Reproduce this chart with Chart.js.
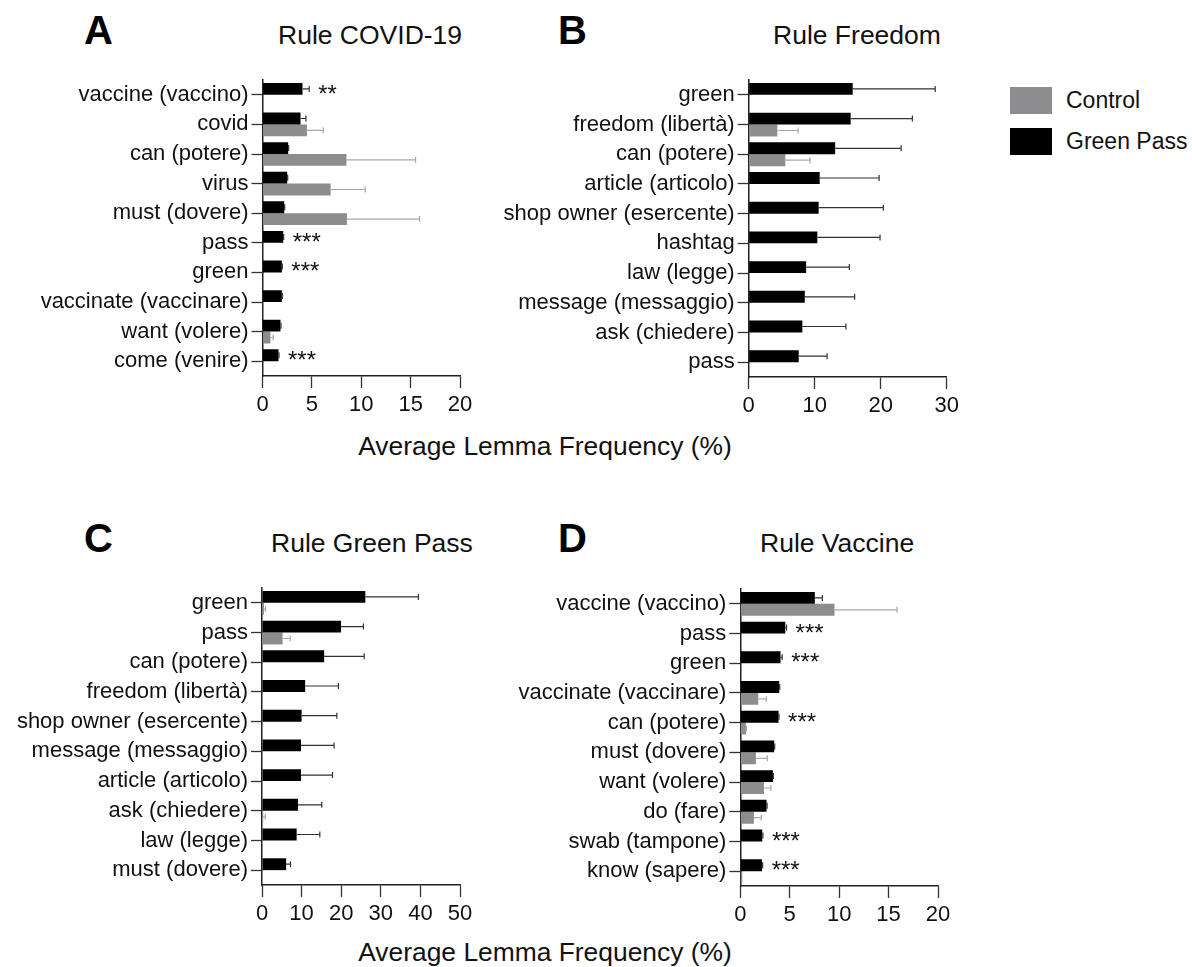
<!DOCTYPE html>
<html>
<head>
<meta charset="utf-8">
<script src="https://cdn.jsdelivr.net/npm/chart.js@4.4.1/dist/chart.umd.min.js"></script>
<style>
  html, body { margin: 0; padding: 0; background: #fff; }
  body {
    width: 1192px; height: 967px; position: relative; overflow: hidden;
    font-family: "Liberation Sans", Arial, Helvetica, sans-serif; color: #111;
  }
  canvas { position: absolute; }
  .txt { position: absolute; line-height: 1; white-space: nowrap; }
  .letter { font-weight: bold; font-size: 40px; color: #000; }
  .title { font-size: 26.5px; }
  .axis-title { font-size: 26.4px; transform: translateX(-50%); }
  .swatch { position: absolute; width: 42px; height: 27px; }
  .leg { font-size: 23px; }
</style>
</head>
<body>

<div class="txt letter" style="left:84px; top:10px;">A</div>
<div class="txt title" style="left:278px; top:21.5px;">Rule COVID-19</div>
<div class="txt letter" style="left:558px; top:10px;">B</div>
<div class="txt title" style="left:773px; top:21.5px;">Rule Freedom</div>
<div class="txt letter" style="left:84px; top:518px;">C</div>
<div class="txt title" style="left:271px; top:529.5px;">Rule Green Pass</div>
<div class="txt letter" style="left:558px; top:518px;">D</div>
<div class="txt title" style="left:760px; top:529.5px;">Rule Vaccine</div>

<div class="txt axis-title" style="left:545px; top:433.3px;">Average Lemma Frequency (%)</div>
<div class="txt axis-title" style="left:545px; top:939.3px;">Average Lemma Frequency (%)</div>

<div class="swatch" style="left:1010px; top:87px; background:#8d8d8f;"></div>
<div class="txt leg" style="left:1066px; top:89.3px;">Control</div>
<div class="swatch" style="left:1010px; top:128px; background:#000;"></div>
<div class="txt leg" style="left:1066px; top:129.8px;">Green Pass</div>

<canvas id="chartA" width="500" height="380" style="left:0px; top:60px;"></canvas>
<canvas id="chartB" width="500" height="380" style="left:480px; top:60px;"></canvas>
<canvas id="chartC" width="500" height="380" style="left:0px; top:568px;"></canvas>
<canvas id="chartD" width="500" height="380" style="left:480px; top:568px;"></canvas>

<script>
/* ============================================================
   Average lemma frequency per rule - Green Pass vs Control
   ============================================================ */

const FONT = '"Liberation Sans", Arial, Helvetica, sans-serif';
const GREEN_PASS_COLOR = "#000000";
const CONTROL_COLOR    = "#8d8d8f";

// ── A: Rule COVID-19 ──────────────────────────────────────────
const covidLabels = ["vaccine (vaccino)", "covid", "can (potere)", "virus", "must (dovere)",
                     "pass", "green", "vaccinate (vaccinare)", "want (volere)", "come (venire)"];
const covidGreenPass    = [4.05, 3.85, 2.6, 2.5, 2.2, 2.1, 1.96, 1.96, 1.82, 1.62];
const covidGreenPassErr = [0.68, 0.55, 0.05, 0.05, 0.05, 0.05, 0.05, 0.05, 0.05, 0.05];
const covidControl      = [0.1, 4.5, 8.5, 6.9, 8.55, 0, 0, 0, 0.8, 0];
const covidControlErr   = [0, 1.65, 7.0, 3.5, 7.35, 0, 0, 0, 0.28, 0];
const covidStars        = ["**", "", "", "", "", "***", "***", "", "", "***"];
const covidTicks        = [0, 5, 10, 15, 20];

// ── B: Rule Freedom ───────────────────────────────────────────
const freedomLabels = ["green", "freedom (libertà)", "can (potere)", "article (articolo)",
                       "shop owner (esercente)", "hashtag", "law (legge)", "message (messaggio)",
                       "ask (chiedere)", "pass"];
const freedomGreenPass    = [15.76, 15.45, 13.1, 10.76, 10.6, 10.4, 8.7, 8.5, 8.13, 7.58];
const freedomGreenPassErr = [12.5, 9.35, 10.0, 9.0, 9.8, 9.5, 6.55, 7.55, 6.6, 4.3];
const freedomControl      = [0, 4.34, 5.55, 0.05, 0, 0, 0, 0, 0.05, 0];
const freedomControlErr   = [0, 3.15, 3.75, 0, 0, 0, 0, 0, 0, 0];
const freedomStars        = ["", "", "", "", "", "", "", "", "", ""];
const freedomTicks        = [0, 10, 20, 30];

// ── C: Rule Green Pass ────────────────────────────────────────
const greenLabels = ["green", "pass", "can (potere)", "freedom (libertà)", "shop owner (esercente)",
                     "message (messaggio)", "article (articolo)", "ask (chiedere)", "law (legge)",
                     "must (dovere)"];
const greenGreenPass    = [26.1, 19.95, 15.7, 10.9, 10.0, 9.85, 9.85, 9.1, 8.75, 6.1];
const greenGreenPassErr = [13.4, 5.65, 10.1, 8.4, 8.9, 8.35, 7.95, 6.0, 5.85, 1.1];
const greenControl      = [0.5, 5.2, 0.1, 0, 0, 0, 0, 0.3, 0, 0.1];
const greenControlErr   = [0.4, 1.9, 0, 0, 0, 0, 0, 0.5, 0, 0];
const greenStars        = ["", "", "", "", "", "", "", "", "", ""];
const greenTicks        = [0, 10, 20, 30, 40, 50];

// ── D: Rule Vaccine ───────────────────────────────────────────
const vaccineLabels = ["vaccine (vaccino)", "pass", "green", "vaccinate (vaccinare)", "can (potere)",
                       "must (dovere)", "want (volere)", "do (fare)", "swab (tampone)", "know (sapere)"];
const vaccineGreenPass    = [7.54, 4.55, 4.07, 3.94, 3.87, 3.43, 3.3, 2.66, 2.22, 2.19];
const vaccineGreenPassErr = [0.76, 0.13, 0.17, 0.05, 0.05, 0.05, 0.05, 0.05, 0.07, 0.07];
const vaccineControl      = [9.53, 0, 0, 1.82, 0.57, 1.58, 2.39, 1.38, 0, 0.2];
const vaccineControlErr   = [6.33, 0, 0, 0.81, 0.05, 1.15, 0.71, 0.74, 0, 0];
const vaccineStars        = ["", "***", "***", "", "***", "", "", "", "***", "***"];
const vaccineTicks        = [0, 5, 10, 15, 20];

// ── Error bars + significance stars ──────────────────────────
const errorBarPlugin = {
    id: "errorBars",
    afterDatasetsDraw(chart) {
        const ctx = chart.ctx;
        const xScale = chart.scales.x;
        chart.data.datasets.forEach((ds, di) => {
            const meta = chart.getDatasetMeta(di);
            meta.data.forEach((bar, i) => {
                const err = ds.errors[i];
                if (err) {
                    const x0 = bar.x;
                    const x1 = xScale.getPixelForValue(ds.data[i] + err);
                    ctx.save();
                    ctx.strokeStyle = ds.errorColor;
                    ctx.lineWidth = 1.2;
                    ctx.beginPath();
                    ctx.moveTo(x0, bar.y);
                    ctx.lineTo(x1, bar.y);
                    ctx.moveTo(x1, bar.y - 3);
                    ctx.lineTo(x1, bar.y + 3);
                    ctx.stroke();
                    ctx.restore();
                }
                const star = ds.stars && ds.stars[i];
                if (star) {
                    const xs = xScale.getPixelForValue(ds.data[i] + (err || 0)) + 9;
                    ctx.save();
                    ctx.fillStyle = "#111";
                    ctx.font = `24px ${FONT}`;
                    ctx.textAlign = "left";
                    ctx.textBaseline = "alphabetic";
                    ctx.fillText(star, xs, bar.y + 13);
                    ctx.restore();
                }
            });
        });
    }
};

// ── Panel builder ─────────────────────────────────────────────
function renderPanel(canvasId, labels, gp, gpErr, ct, ctErr, stars, ticks, box) {
    const ctx = document.getElementById(canvasId).getContext("2d");
    return new Chart(ctx, {
        type: "bar",
        data: {
            labels,
            datasets: [
                { label: "Green Pass", data: gp, errors: gpErr, stars, errorColor: "#333",
                  backgroundColor: GREEN_PASS_COLOR, borderWidth: 0 },
                { label: "Control", data: ct, errors: ctErr, errorColor: "#a8a8a8",
                  backgroundColor: CONTROL_COLOR, borderWidth: 0 }
            ]
        },
        options: {
            indexAxis: "y",
            responsive: false,
            animation: false,
            events: [],
            layout: { padding: { left: 0, top: box.top, right: box.right, bottom: box.bottom } },
            datasets: { bar: { categoryPercentage: 0.8, barPercentage: 1.0 } },
            plugins: { legend: { display: false }, tooltip: { enabled: false } },
            scales: {
                y: {
                    afterFit: s => { s.width = box.left; },
                    grid: { display: true, drawOnChartArea: false, offset: false,
                            tickLength: 11, tickColor: "#333", tickWidth: 1.3 },
                    border: { display: true, color: "#222", width: 1.5 },
                    ticks: { autoSkip: false, padding: 3, color: "#111",
                             font: { family: FONT, size: 22 } }
                },
                x: {
                    min: ticks[0],
                    max: ticks[ticks.length - 1],
                    afterFit: s => { s.height = 50; },
                    afterBuildTicks: s => { s.ticks = ticks.map(v => ({ value: v })); },
                    grid: { display: true, drawOnChartArea: false,
                            tickLength: 12, tickColor: "#333", tickWidth: 1.3 },
                    border: { display: true, color: "#222", width: 1.5 },
                    ticks: { padding: 4, color: "#111", font: { family: FONT, size: 22 } }
                }
            }
        },
        plugins: [errorBarPlugin]
    });
}

// ── Init ──────────────────────────────────────────────────────
renderPanel("chartA", covidLabels, covidGreenPass, covidGreenPassErr, covidControl, covidControlErr,
            covidStars, covidTicks, { left: 262.5, top: 20, right: 40, bottom: 14 });
renderPanel("chartB", freedomLabels, freedomGreenPass, freedomGreenPassErr, freedomControl, freedomControlErr,
            freedomStars, freedomTicks, { left: 268.7, top: 20, right: 33.3, bottom: 13 });
renderPanel("chartC", greenLabels, greenGreenPass, greenGreenPassErr, greenControl, greenControlErr,
            greenStars, greenTicks, { left: 262, top: 20, right: 40, bottom: 13 });
renderPanel("chartD", vaccineLabels, vaccineGreenPass, vaccineGreenPassErr, vaccineControl, vaccineControlErr,
            vaccineStars, vaccineTicks, { left: 260.3, top: 21, right: 42, bottom: 12 });
</script>
</body>
</html>
